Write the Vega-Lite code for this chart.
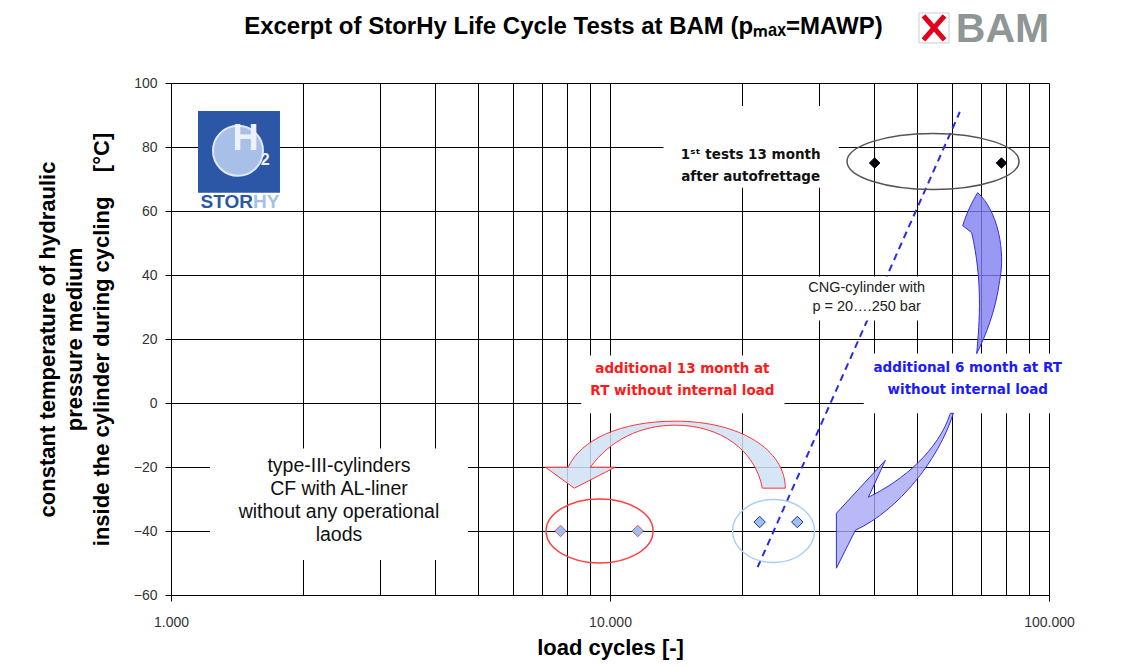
{
  "$schema": "https://vega.github.io/schema/vega-lite/v6.json",
  "width": 878,
  "height": 512,
  "autosize": {"type": "none"},
  "padding": {"left": 171, "top": 83, "right": 75, "bottom": 73},
  "background": "#ffffff",
  "config": {"view": {"stroke": null}, "font": "Liberation Sans"},
  "datasets": {
    "pts": [
      {"x": 40070, "y": 75, "k": "b"},
      {"x": 77930, "y": 75, "k": "b"},
      {"x": 7713, "y": -40, "k": "r"},
      {"x": 11570, "y": -40, "k": "r"},
      {"x": 21920, "y": -37.2, "k": "n"},
      {"x": 26710, "y": -37.2, "k": "n"}
    ],
    "cng": [
      {"x": 21690, "y": -51.3},
      {"x": 62640, "y": 90.95}
    ],
    "boxes": [
      {"x": 13240, "x2": 33210, "y": 67.3, "y2": 92.8},
      {"x": 27700, "x2": 54430, "y": 25.8, "y2": 39.5},
      {"x": 8600, "x2": 24970, "y": -3.2, "y2": 14.85},
      {"x": 37840, "x2": 109800, "y": -3.2, "y2": 15.5},
      {"x": 1227, "x2": 4749, "y": -49.1, "y2": -14.2}
    ],
    "ell": [
      {"x": 54430, "y": 75.5, "k": "black"},
      {"x": 9469, "y": -40, "k": "red"},
      {"x": 23580, "y": -40, "k": "blue"}
    ],
    "arrows": [
      {"x": 14460, "y": -16.3, "k": "red"},
      {"x": 70620, "y": 41.36, "k": "up"},
      {"x": 45390, "y": -27.26, "k": "down"}
    ],
    "notes": [
      {"x": 20920, "y": 77.5, "t": "1ˢᵗ tests 13 month\nafter autofrettage", "k": "black"},
      {"x": 14620, "y": 10.6, "t": "additional 13 month at\nRT without internal load", "k": "red"},
      {"x": 65300, "y": 10.9, "t": "additional 6 month at RT\nwithout internal load", "k": "blue"}
    ],
    "cngnote": [
      {"x": 38420, "y": 35.9, "t": "CNG-cylinder with\np = 20….250 bar"}
    ],
    "typenote": [
      {"x": 2413, "y": -19.7, "t": "type-III-cylinders\nCF with AL-liner\nwithout any operational\nlaods"}
    ],
    "heading": [
      {"x": 7832, "y": 115.3, "t": "Excerpt of StorHy Life Cycle Tests at BAM (pₘₐₓ=MAWP)"}
    ],
    "bammark": [{"x": 54710, "y": 117.2}],
    "bamtext": [{"x": 61350, "y": 112.8, "t": "BAM"}],
    "logobox": [{"x": 1152, "x2": 1771, "y": 65.69, "y2": 91.27}],
    "logocircle": [{"x": 1421, "y": 78.8}],
    "logoH": [{"x": 1478, "y": 82.5, "t": "H"}],
    "logo2": [{"x": 1640, "y": 75.8, "t": "2"}],
    "logostor": [{"x": 1537, "y": 62.9, "t": "STOR"}],
    "logohy": [{"x": 1537, "y": 62.9, "t": "HY"}]
  },
  "encoding": {
    "x": {
      "field": "x",
      "type": "quantitative",
      "scale": {"type": "log", "domain": [1000, 100000], "nice": false},
      "axis": {
        "values": [1000, 2000, 3000, 4000, 5000, 6000, 7000, 8000, 9000, 10000, 20000, 30000, 40000, 50000, 60000, 70000, 80000, 90000, 100000],
        "labelExpr": "datum.value == 1000 ? '1.000' : datum.value == 10000 ? '10.000' : datum.value == 100000 ? '100.000' : ''",
        "labelOverlap": false,
        "labelFlush": false,
        "grid": true,
        "gridColor": "#000000",
        "gridOpacity": 1,
        "gridWidth": 1,
        "domainColor": "#000000",
        "tickColor": "#000000",
        "tickSize": 6,
        "tickOpacity": {"condition": {"test": "datum.value == 1000 || datum.value == 10000 || datum.value == 100000", "value": 1}, "value": 0},
        "labelFont": "Liberation Sans",
        "labelFontSize": 14,
        "labelColor": "#333333",
        "labelPadding": 14,
        "title": "load cycles [-]",
        "titleFont": "Liberation Sans",
        "titleFontSize": 22,
        "titleFontWeight": "bold",
        "titleColor": "#000000",
        "titlePadding": 8
      }
    },
    "y": {
      "field": "y",
      "type": "quantitative",
      "scale": {"domain": [-60, 100], "nice": false, "zero": false},
      "axis": {
        "values": [-60, -40, -20, 0, 20, 40, 60, 80, 100],
        "grid": true,
        "gridColor": "#000000",
        "gridOpacity": 1,
        "gridWidth": 1,
        "domainColor": "#000000",
        "tickColor": "#000000",
        "tickSize": 6,
        "labelFont": "Liberation Sans",
        "labelFontSize": 14,
        "labelColor": "#333333",
        "labelPadding": 8,
        "title": ["constant temperature of hydraulic", "pressure medium", "inside the cylinder during cycling\u00a0\u00a0\u00a0\u00a0[°C]"],
        "titleFont": "Liberation Sans",
        "titleFontSize": 22,
        "titleFontWeight": "bold",
        "titleColor": "#000000",
        "titleLineHeight": 27,
        "titlePadding": 20
      }
    }
  },
  "layer": [
    {
      "data": {"name": "cng"},
      "mark": {"type": "line", "color": "#2a2ae8", "strokeWidth": 2, "strokeDash": [7, 5]}
    },
    {
      "data": {"name": "boxes"},
      "mark": {"type": "rect", "color": "#ffffff", "opacity": 1},
      "encoding": {"x2": {"field": "x2"}, "y2": {"field": "y2"}}
    },
    {
      "data": {"name": "ell"},
      "transform": [{"filter": "datum.k == 'black'"}],
      "mark": {"type": "point", "filled": false, "size": 40000, "stroke": "#555555", "strokeWidth": 1.5, "opacity": 1,
        "shape": "M -0.86 0 A 0.86 0.28 0 1 0 0.86 0 A 0.86 0.28 0 1 0 -0.86 0 Z"}
    },
    {
      "data": {"name": "ell"},
      "transform": [{"filter": "datum.k == 'red'"}],
      "mark": {"type": "point", "filled": false, "size": 40000, "stroke": "#ff4040", "strokeWidth": 1.5, "opacity": 1,
        "shape": "M -0.535 0 A 0.535 0.32 0 1 0 0.535 0 A 0.535 0.32 0 1 0 -0.535 0 Z"}
    },
    {
      "data": {"name": "ell"},
      "transform": [{"filter": "datum.k == 'blue'"}],
      "mark": {"type": "point", "filled": false, "size": 40000, "stroke": "#a8cff5", "strokeWidth": 1.5, "opacity": 1,
        "shape": "M -0.41 0 A 0.41 0.315 0 1 0 0.41 0 A 0.41 0.315 0 1 0 -0.41 0 Z"}
    },
    {
      "data": {"name": "arrows"},
      "transform": [{"filter": "datum.k == 'red'"}],
      "mark": {"type": "point", "filled": true, "size": 40000, "fill": "#cfe2f6", "fillOpacity": 0.85, "stroke": "#ff3333", "strokeWidth": 1, "strokeOpacity": 1,
        "shape": "M 1.05 0.33 C 1.05 -0.05 0.60 -0.34 -0.05 -0.34 C -0.60 -0.34 -1.00 -0.15 -1.12 0.12 L -1.35 0.12 L -1.06 0.33 L -0.65 0.12 L -0.90 0.12 C -0.70 -0.15 -0.40 -0.30 -0.05 -0.30 C 0.40 -0.30 0.75 -0.05 0.82 0.33 Z"}
    },
    {
      "data": {"name": "arrows"},
      "transform": [{"filter": "datum.k == 'up'"}],
      "mark": {"type": "point", "filled": true, "size": 40000, "fill": "#8080f0", "fillOpacity": 0.8, "stroke": "#2f2fe8", "strokeWidth": 1, "strokeOpacity": 1,
        "shape": "M -0.05 -0.78 C 0.15 -0.60 0.23 -0.20 0.17 0.10 C 0.13 0.40 0.03 0.65 -0.06 0.83 C -0.03 0.50 0.00 0.10 -0.11 -0.38 L -0.20 -0.45 C -0.16 -0.58 -0.10 -0.70 -0.05 -0.78 Z"}
    },
    {
      "data": {"name": "arrows"},
      "transform": [{"filter": "datum.k == 'down'"}],
      "mark": {"type": "point", "filled": true, "size": 40000, "fill": "#a8a8f6", "fillOpacity": 0.8, "stroke": "#2f2fe8", "strokeWidth": 1, "strokeOpacity": 1,
        "shape": "M 0.55 -0.77 C 0.40 -0.30 0.00 0.20 -0.43 0.40 L -0.62 0.78 L -0.62 0.23 L -0.13 -0.30 L -0.30 0.07 C 0.05 -0.10 0.40 -0.40 0.52 -0.77 Z"}
    },
    {
      "data": {"name": "pts"},
      "transform": [{"filter": "datum.k == 'b'"}],
      "mark": {"type": "point", "shape": "diamond", "filled": true, "size": 110, "fill": "#000000", "stroke": "#000033", "strokeWidth": 1, "opacity": 1}
    },
    {
      "data": {"name": "pts"},
      "transform": [{"filter": "datum.k == 'r'"}],
      "mark": {"type": "point", "shape": "diamond", "filled": true, "size": 130, "fill": "#99c2f0", "stroke": "#e05060", "strokeWidth": 1, "opacity": 1}
    },
    {
      "data": {"name": "pts"},
      "transform": [{"filter": "datum.k == 'n'"}],
      "mark": {"type": "point", "shape": "diamond", "filled": true, "size": 130, "fill": "#99c2f0", "stroke": "#2a2a90", "strokeWidth": 1, "opacity": 1}
    },
    {
      "data": {"name": "notes"},
      "transform": [{"filter": "datum.k == 'black'"}],
      "mark": {"type": "text", "lineBreak": "\n", "align": "center", "baseline": "middle", "font": "DejaVu Sans", "fontWeight": "bold", "fontSize": 13.5, "lineHeight": 22, "color": "#111111"},
      "encoding": {"text": {"field": "t"}}
    },
    {
      "data": {"name": "notes"},
      "transform": [{"filter": "datum.k == 'red'"}],
      "mark": {"type": "text", "lineBreak": "\n", "align": "center", "baseline": "middle", "font": "DejaVu Sans", "fontWeight": "bold", "fontSize": 13.5, "lineHeight": 22, "color": "#ff1a1a"},
      "encoding": {"text": {"field": "t"}}
    },
    {
      "data": {"name": "notes"},
      "transform": [{"filter": "datum.k == 'blue'"}],
      "mark": {"type": "text", "lineBreak": "\n", "align": "center", "baseline": "middle", "font": "DejaVu Sans", "fontWeight": "bold", "fontSize": 13.5, "lineHeight": 22, "color": "#1a1aff"},
      "encoding": {"text": {"field": "t"}}
    },
    {
      "data": {"name": "cngnote"},
      "mark": {"type": "text", "lineBreak": "\n", "align": "center", "baseline": "middle", "font": "Liberation Sans", "fontSize": 14.5, "lineHeight": 19, "color": "#222222"},
      "encoding": {"text": {"field": "t"}}
    },
    {
      "data": {"name": "typenote"},
      "mark": {"type": "text", "lineBreak": "\n", "align": "center", "baseline": "middle", "font": "Liberation Sans", "fontSize": 19.5, "lineHeight": 23, "color": "#111111"},
      "encoding": {"text": {"field": "t"}}
    },
    {
      "data": {"name": "heading"},
      "mark": {"type": "text", "align": "center", "baseline": "alphabetic", "font": "Liberation Sans", "fontWeight": "bold", "fontSize": 24, "color": "#000000"},
      "encoding": {"text": {"field": "t"}}
    },
    {
      "data": {"name": "bammark"},
      "mark": {"type": "point", "filled": false, "size": 900, "stroke": "#cccccc", "strokeWidth": 1, "opacity": 1,
        "shape": "M -1 -1 L 1 -1 L 1 1 L -1 1 Z"}
    },
    {
      "data": {"name": "bammark"},
      "mark": {"type": "point", "filled": false, "size": 900, "stroke": "#e3001b", "strokeWidth": 5, "opacity": 1,
        "shape": "M -0.7 -0.8 L 0.7 0.8 M 0.7 -0.8 L -0.7 0.8"}
    },
    {
      "data": {"name": "bamtext"},
      "mark": {"type": "text", "align": "left", "baseline": "alphabetic", "font": "Liberation Sans", "fontWeight": "bold", "fontSize": 41, "color": "#8e9696"},
      "encoding": {"text": {"field": "t"}}
    },
    {
      "data": {"name": "logobox"},
      "mark": {"type": "rect", "color": "#2c56a6", "opacity": 1},
      "encoding": {"x2": {"field": "x2"}, "y2": {"field": "y2"}}
    },
    {
      "data": {"name": "logocircle"},
      "mark": {"type": "point", "shape": "circle", "filled": true, "size": 2500, "fill": "#a8c0e8", "stroke": "#dfe8f8", "strokeWidth": 2, "opacity": 1}
    },
    {
      "data": {"name": "logoH"},
      "mark": {"type": "text", "align": "center", "baseline": "middle", "font": "Liberation Sans", "fontWeight": "bold", "fontSize": 36, "color": "#eef2fa"},
      "encoding": {"text": {"field": "t"}}
    },
    {
      "data": {"name": "logo2"},
      "mark": {"type": "text", "align": "center", "baseline": "middle", "font": "Liberation Sans", "fontWeight": "bold", "fontSize": 16, "color": "#eef2fa"},
      "encoding": {"text": {"field": "t"}}
    },
    {
      "data": {"name": "logostor"},
      "mark": {"type": "text", "align": "right", "baseline": "middle", "font": "Liberation Sans", "fontWeight": "bold", "fontSize": 19, "color": "#2c56a6"},
      "encoding": {"text": {"field": "t"}}
    },
    {
      "data": {"name": "logohy"},
      "mark": {"type": "text", "align": "left", "baseline": "middle", "font": "Liberation Sans", "fontWeight": "bold", "fontSize": 19, "color": "#a8c0e8"},
      "encoding": {"text": {"field": "t"}}
    }
  ]
}
